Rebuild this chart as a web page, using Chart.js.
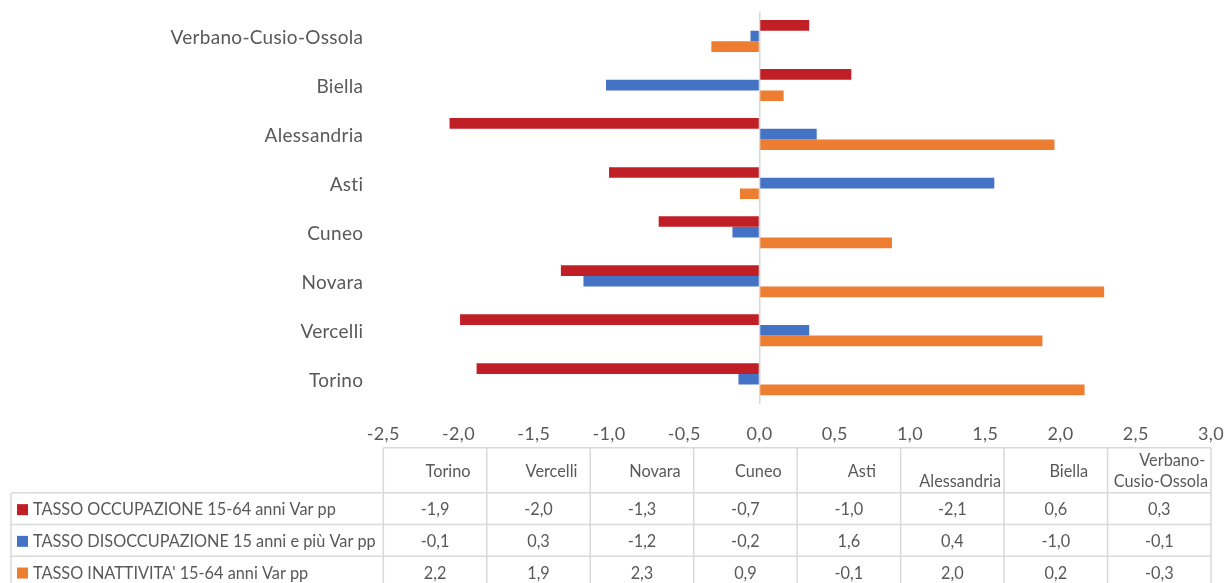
<!DOCTYPE html>
<html lang="it">
<head>
<meta charset="utf-8">
<title>Piemonte – variazione dei tassi per provincia</title>
<script src="https://cdn.jsdelivr.net/npm/chart.js@4.4.1/dist/chart.umd.min.js"></script>
<style>
  html, body { margin: 0; padding: 0; background: #ffffff; }
  canvas { display: block; }
</style>
</head>
<body>
<canvas id="grafico" width="1226" height="583"></canvas>
<script>
// Province (Torino in basso, Verbano-Cusio-Ossola in alto)
const province = ['Torino', 'Vercelli', 'Novara', 'Cuneo', 'Asti', 'Alessandria', 'Biella', 'Verbano-Cusio-Ossola'];

// Intestazioni delle colonne della tabella dati (a capo come nel foglio)
const intestazioni = [['Torino'], ['Vercelli'], ['Novara'], ['Cuneo'], ['Asti'], ['', 'Alessandria'], ['Biella'], ['Verbano-', 'Cusio-Ossola']];

// Variazioni in punti percentuali
const occupazione    = [-1.88, -1.99, -1.32, -0.67, -1.00, -2.06,  0.61,  0.33];
const disoccupazione = [-0.14,  0.33, -1.17, -0.18,  1.56,  0.38, -1.02, -0.06];
const inattivita     = [ 2.16,  1.88,  2.29,  0.88, -0.13,  1.96,  0.16, -0.32];

const nomiSerie = [
  'TASSO OCCUPAZIONE 15-64 anni Var pp',
  'TASSO DISOCCUPAZIONE 15 anni e più Var pp',
  "TASSO INATTIVITA' 15-64 anni Var pp"
];
const coloriSerie = ['#C01F26', '#4472C4', '#ED7D31'];

// Estremi e passo dell'asse dei valori
const asseMin = -2.5;
const asseMax = 3.0;
const assePasso = 0.5;

const FONT = 'Lato, "Liberation Sans", sans-serif';
const FONT_ASSE = 18;
const FONT_TABELLA = 16.3;
const FONT_PROVINCE = 19;
const SPAZIATURA = '0.3px';
const TESTO = '#595959';
const LINEE = '#D9D9D9';

const formatta = v => (Math.round(v * 10) / 10).toFixed(1).replace('.', ',');

// Leggera spaziatura tra i caratteri per le etichette degli assi
const spaziatura = {
  id: 'spaziatura',
  beforeDraw(chart) {
    if ('letterSpacing' in chart.ctx) chart.ctx.letterSpacing = SPAZIATURA;
  }
};

// Tabella dati sotto il grafico: intestazioni, legenda e valori
const tabellaDati = {
  id: 'tabellaDati',
  afterDraw(chart) {
    const { ctx, chartArea } = chart;
    const x = chart.scales.x;
    const serie = chart.data.datasets;
    const n = chart.data.labels.length;
    const sinistra = x.left;
    const destra = x.right;
    const largCol = (destra - sinistra) / n;
    const testaTop = chartArea.bottom + 44;
    const testaBottom = testaTop + 45;
    const altRiga = 31.7;
    const legSinistra = 11;
    const fondo = testaBottom + serie.length * altRiga;

    ctx.save();
    if ('letterSpacing' in ctx) ctx.letterSpacing = '0px';
    ctx.strokeStyle = LINEE;
    ctx.lineWidth = 1.5;
    ctx.beginPath();
    ctx.moveTo(sinistra, testaTop);
    ctx.lineTo(destra, testaTop);
    for (let i = 0; i <= n; i++) {
      const cx = sinistra + i * largCol;
      ctx.moveTo(cx, testaTop);
      ctx.lineTo(cx, fondo);
    }
    for (let r = 0; r <= serie.length; r++) {
      const y = testaBottom + r * altRiga;
      ctx.moveTo(legSinistra, y);
      ctx.lineTo(destra, y);
    }
    ctx.moveTo(legSinistra, testaBottom);
    ctx.lineTo(legSinistra, fondo);
    ctx.stroke();

    ctx.font = `${FONT_TABELLA}px ${FONT}`;
    ctx.fillStyle = TESTO;
    ctx.textBaseline = 'middle';
    ctx.textAlign = 'center';

    // intestazioni
    const centroTesta = testaTop + 23.5;
    const interlinea = 21;
    intestazioni.forEach((righe, i) => {
      const centroCol = sinistra + (i + 0.5) * largCol;
      const bordoDx = sinistra + (i + 1) * largCol;
      righe.forEach((t, k) => {
        const w = ctx.measureText(t).width;
        const cx = Math.min(centroCol + 13, bordoDx - 3 - w / 2);
        const cy = centroTesta + (k - (righe.length - 1) / 2) * interlinea;
        ctx.fillText(t, cx, cy);
      });
    });

    // righe della legenda con i valori
    serie.forEach((ds, r) => {
      const cy = testaBottom + r * altRiga + altRiga / 2 + 1.5;
      ctx.fillStyle = ds.backgroundColor;
      ctx.fillRect(17, cy - 6, 11, 11);
      ctx.fillStyle = TESTO;
      ctx.textAlign = 'left';
      ctx.fillText(ds.label, 33, cy);
      ctx.textAlign = 'center';
      ds.data.forEach((v, i) => {
        ctx.fillText(formatta(v), sinistra + (i + 0.5) * largCol, cy);
      });
    });
    ctx.restore();
  }
};

const serieDati = [occupazione, disoccupazione, inattivita];

new Chart(document.getElementById('grafico'), {
  type: 'bar',
  data: {
    labels: province,
    datasets: serieDati.map((d, i) => ({
      label: nomiSerie[i],
      data: d,
      backgroundColor: coloriSerie[i],
      categoryPercentage: 0.652,
      barPercentage: 1
    }))
  },
  options: {
    indexAxis: 'y',
    responsive: false,
    animation: false,
    devicePixelRatio: 1,
    layout: { padding: { top: 11.5, right: 15, bottom: 0, left: 0 } },
    plugins: {
      legend: { display: false },
      tooltip: { enabled: false }
    },
    scales: {
      x: {
        min: asseMin,
        max: asseMax,
        z: 1,
        ticks: {
          stepSize: assePasso,
          callback: v => formatta(v),
          color: TESTO,
          font: { family: FONT, size: FONT_ASSE },
          padding: 20,
          maxRotation: 0,
          autoSkip: false
        },
        grid: {
          drawTicks: false,
          lineWidth: 1.5,
          color: c => (c.tick && c.tick.value === 0 ? LINEE : 'rgba(0,0,0,0)')
        },
        border: { display: false },
        afterFit: s => { s.height = 179.2; s.paddingLeft = 0; s.paddingRight = 0; }
      },
      y: {
        reverse: true,
        ticks: {
          color: TESTO,
          font: { family: FONT, size: FONT_PROVINCE },
          padding: 20,
          labelOffset: 2
        },
        grid: { display: false, drawTicks: false },
        border: { display: false },
        afterFit: s => { s.width = 383.3; s.paddingTop = 0; s.paddingBottom = 0; }
      }
    }
  },
  plugins: [spaziatura, tabellaDati]
});
</script>
</body>
</html>
